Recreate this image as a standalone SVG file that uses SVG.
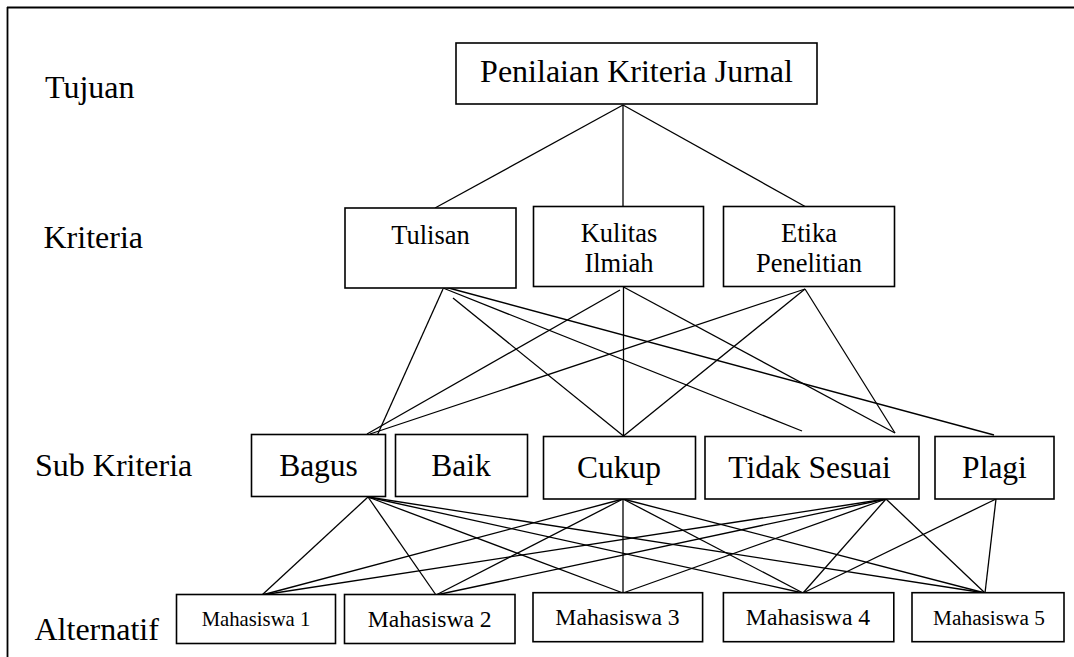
<svg xmlns="http://www.w3.org/2000/svg" width="1074" height="657" viewBox="0 0 1074 657" font-family="'Liberation Serif', 'Times New Roman', Times, serif">
  <style>
    .box { fill: #ffffff; stroke: #000000; stroke-width: 1.6; }
    .edge { stroke: #000000; stroke-width: 1.3; fill: none; }
    .frame { stroke: #000000; stroke-width: 1.8; fill: none; }
    text { font-family: 'Liberation Serif', 'Times New Roman', Times, serif; fill: #000000; }
    .mid { text-anchor: middle; }
  </style>

  <rect x="0" y="0" width="1074" height="657" fill="#ffffff"/>

  <!-- page frame (top and left rule) -->
  <g id="frame">
    <line class="frame" x1="7" y1="7.5" x2="1074" y2="7.5"/>
    <line class="frame" x1="7.5" y1="7" x2="7.5" y2="657"/>
  </g>

  <!-- level labels -->
  <g id="levels" font-size="32">
    <text x="45" y="98" font-family="Liberation Serif">Tujuan</text>
    <text x="43.5" y="248" font-family="Liberation Serif">Kriteria</text>
    <text x="35" y="476" font-family="Liberation Serif">Sub Kriteria</text>
    <text x="34.5" y="640" font-family="Liberation Serif">Alternatif</text>
  </g>

  <!-- connectors -->
  <g id="connectors">
    <!-- goal to criteria -->
    <line class="edge" x1="623" y1="105" x2="435" y2="208"/>
    <line class="edge" x1="623" y1="105" x2="623" y2="207"/>
    <line class="edge" x1="623" y1="105" x2="806" y2="207"/>

    <!-- criteria to sub criteria -->
    <line class="edge" x1="443" y1="289" x2="376" y2="438"/>
    <line class="edge" x1="445" y1="287" x2="994" y2="435"/>
    <line class="edge" x1="443" y1="288" x2="802" y2="431"/>
    <line class="edge" x1="453" y1="298" x2="623.5" y2="436"/>
    <line class="edge" x1="367" y1="434" x2="620" y2="290"/>
    <line class="edge" x1="370" y1="434" x2="805" y2="289"/>
    <line class="edge" x1="623.5" y1="258" x2="623.5" y2="436"/>
    <line class="edge" x1="623.5" y1="287" x2="895" y2="433"/>
    <line class="edge" x1="805" y1="289" x2="623.5" y2="436"/>
    <line class="edge" x1="805" y1="289" x2="895" y2="433"/>

    <!-- sub criteria to alternatives: Bagus -->
    <line class="edge" x1="368" y1="497" x2="262" y2="595"/>
    <line class="edge" x1="368" y1="497" x2="436" y2="595"/>
    <line class="edge" x1="368" y1="497" x2="623" y2="593"/>
    <line class="edge" x1="368" y1="497" x2="803" y2="593"/>
    <line class="edge" x1="368" y1="497" x2="985" y2="593"/>
    <!-- Cukup -->
    <line class="edge" x1="623" y1="499" x2="262" y2="595"/>
    <line class="edge" x1="623" y1="499" x2="436" y2="595"/>
    <line class="edge" x1="623" y1="499" x2="623" y2="593"/>
    <line class="edge" x1="623" y1="499" x2="803" y2="593"/>
    <line class="edge" x1="623" y1="499" x2="985" y2="593"/>
    <!-- Tidak Sesuai -->
    <line class="edge" x1="886" y1="499" x2="262" y2="595"/>
    <line class="edge" x1="886" y1="499" x2="436" y2="595"/>
    <line class="edge" x1="886" y1="499" x2="623" y2="593"/>
    <line class="edge" x1="886" y1="499" x2="803" y2="593"/>
    <line class="edge" x1="886" y1="499" x2="985" y2="593"/>
    <!-- Plagi -->
    <line class="edge" x1="996" y1="499" x2="803" y2="593"/>
    <line class="edge" x1="996" y1="499" x2="985" y2="593"/>
  </g>

  <!-- goal -->
  <g id="goal">
    <rect class="box" x="456" y="43" width="361" height="61"/>
    <text class="mid" x="636.5" y="82" font-size="32" font-family="Liberation Serif">Penilaian Kriteria Jurnal</text>
  </g>

  <!-- criteria -->
  <g id="crit-tulisan" font-size="26.5">
    <rect class="box" x="345" y="208" width="171" height="80"/>
    <text class="mid" x="430.5" y="244" font-family="Liberation Serif">Tulisan</text>
  </g>
  <g id="crit-kualitas" font-size="26.5">
    <rect class="box" x="533.5" y="206.5" width="170" height="80"/>
    <text class="mid" x="619" y="241.5" font-family="Liberation Serif">Kulitas</text>
    <text class="mid" x="619" y="272" font-family="Liberation Serif">Ilmiah</text>
  </g>
  <g id="crit-etika" font-size="26.5">
    <rect class="box" x="723.5" y="206.5" width="171" height="80"/>
    <text class="mid" x="809" y="241.5" font-family="Liberation Serif">Etika</text>
    <text class="mid" x="809" y="272" font-family="Liberation Serif">Penelitian</text>
  </g>

  <!-- sub criteria -->
  <g id="sub-bagus" font-size="31.5">
    <rect class="box" x="251.5" y="434.5" width="134" height="62"/>
    <text class="mid" x="318.5" y="476" font-family="Liberation Serif">Bagus</text>
  </g>
  <g id="sub-baik" font-size="31.5">
    <rect class="box" x="395.5" y="434.5" width="132" height="62"/>
    <text class="mid" x="461" y="476" font-family="Liberation Serif">Baik</text>
  </g>
  <g id="sub-cukup" font-size="31.5">
    <rect class="box" x="543.5" y="436.5" width="152" height="62.5"/>
    <text class="mid" x="619" y="478" font-family="Liberation Serif">Cukup</text>
  </g>
  <g id="sub-tidak-sesuai" font-size="31.5">
    <rect class="box" x="705" y="436.5" width="214" height="62.5"/>
    <text class="mid" x="809.5" y="478" font-family="Liberation Serif">Tidak Sesuai</text>
  </g>
  <g id="sub-plagi" font-size="31.5">
    <rect class="box" x="935" y="436.5" width="119" height="62.5"/>
    <text class="mid" x="994.5" y="478" font-family="Liberation Serif">Plagi</text>
  </g>

  <!-- alternatives -->
  <g id="alt-1">
    <rect class="box" x="176.5" y="594.5" width="159" height="49"/>
    <text class="mid" x="256" y="626" font-size="20.7">Mahasiswa 1</text>
  </g>
  <g id="alt-2">
    <rect class="box" x="344.5" y="594.5" width="170.5" height="49"/>
    <text class="mid" x="429.7" y="627" font-size="23.6">Mahasiswa 2</text>
  </g>
  <g id="alt-3">
    <rect class="box" x="533" y="592.7" width="169.6" height="49"/>
    <text class="mid" x="617.5" y="624.5" font-size="23.7">Mahasiswa 3</text>
  </g>
  <g id="alt-4">
    <rect class="box" x="723.4" y="592.7" width="170.4" height="49"/>
    <text class="mid" x="808" y="624.5" font-size="23.7">Mahasiswa 4</text>
  </g>
  <g id="alt-5">
    <rect class="box" x="912" y="592.7" width="152" height="49"/>
    <text class="mid" x="989" y="624.5" font-size="21.3">Mahasiswa 5</text>
  </g>
</svg>
